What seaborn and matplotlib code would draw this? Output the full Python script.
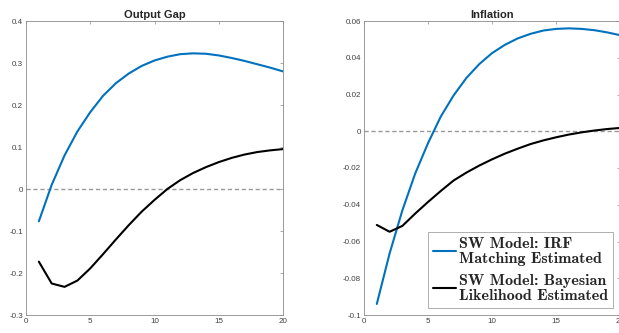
import numpy as np
import pandas as pd
import matplotlib
matplotlib.use("Agg")
import matplotlib.pyplot as plt
import seaborn as sns
from matplotlib.lines import Line2D

horizon = list(range(1, 21))
gap_irf = [-0.077, 0.010, 0.080, 0.137, 0.183, 0.222, 0.252, 0.275, 0.293, 0.306,
           0.315, 0.321, 0.323, 0.322, 0.318, 0.312, 0.305, 0.297, 0.289, 0.280]
gap_bayes = [-0.173, -0.225, -0.233, -0.218, -0.189, -0.155, -0.120, -0.086, -0.054, -0.026,
             0.000, 0.021, 0.038, 0.052, 0.064, 0.074, 0.082, 0.088, 0.092, 0.095]
inf_irf = [-0.094, -0.0665, -0.043, -0.023, -0.0065, 0.008, 0.0195, 0.029, 0.0365, 0.0425,
           0.047, 0.0505, 0.053, 0.0548, 0.0557, 0.056, 0.0557, 0.055, 0.0538, 0.0523]
inf_bayes = [-0.051, -0.0547, -0.0515, -0.0448, -0.0385, -0.0325, -0.0268, -0.0225, -0.0187, -0.0153,
             -0.0122, -0.0095, -0.007, -0.005, -0.0033, -0.0018, -0.0006, 0.0004, 0.0012, 0.0018]
series_names = ["SW Model: IRF\nMatching Estimated", "SW Model: Bayesian\nLikelihood Estimated"]
titles = ["Output Gap", "Inflation"]
colors = ["#0072BD", "#000000"]

sns.set_theme(style="white")
plt.rcParams["font.family"] = ["Liberation Sans", "DejaVu Sans"]
fig = plt.figure(figsize=(6.19, 3.33), dpi=100)
ax1 = fig.add_axes([26/619, 18/333, 257/619, 294/333])
ax2 = fig.add_axes([364/619, 18/333, 256/619, 294/333])

def make_df(a, b):
    return pd.DataFrame({
        "h": horizon * 2,
        "v": a + b,
        "s": [series_names[0]] * len(a) + [series_names[1]] * len(b),
    })

for ax, (a, b), title, ylim, yticks in [
    (ax1, (gap_irf, gap_bayes), titles[0], (-0.3, 0.4), np.round(np.arange(-0.3, 0.41, 0.1), 2)),
    (ax2, (inf_irf, inf_bayes), titles[1], (-0.1, 0.06), np.round(np.arange(-0.1, 0.061, 0.02), 2)),
]:
    df = make_df(a, b)
    sns.lineplot(data=df, x="h", y="v", hue="s", palette=colors, linewidth=1.5, ax=ax, legend=False)
    ax.axhline(0, color="#999999", linestyle=(0, (3, 2)), linewidth=1.0, zorder=0)
    ax.set_xlim(0, 20)
    ax.set_ylim(*ylim)
    ax.set_xticks([0, 5, 10, 15, 20])
    ax.set_yticks(yticks)
    ax.set_yticklabels([("%g" % t) for t in yticks])
    ax.set_xlabel("")
    ax.set_ylabel("")
    ax.set_title(title, fontsize=8, fontweight="bold", pad=2)
    ax.tick_params(direction="in", length=2.5, width=0.5, labelsize=5.8, colors="#8a8a8a",
                   labelcolor="#404040", top=True, right=True, pad=2)
    for sp in ax.spines.values():
        sp.set_color("#8a8a8a")
        sp.set_linewidth(0.6)

handles = [Line2D([], [], color=colors[0], lw=1.5), Line2D([], [], color=colors[1], lw=1.5)]
leg = ax2.legend(handles, series_names, loc="lower right", bbox_to_anchor=(0.973, 0.024),
                 prop={"family": "cmb10", "size": 11.5},
                 frameon=True, fancybox=False, edgecolor="#8a8a8a", handlelength=1.45,
                 handletextpad=0.2, borderpad=0.3, labelspacing=0.5, borderaxespad=0)
leg.get_frame().set_linewidth(0.6)
for t in leg.get_texts():
    t.set_linespacing(1.12)

fig.savefig("out.png", dpi=100)
